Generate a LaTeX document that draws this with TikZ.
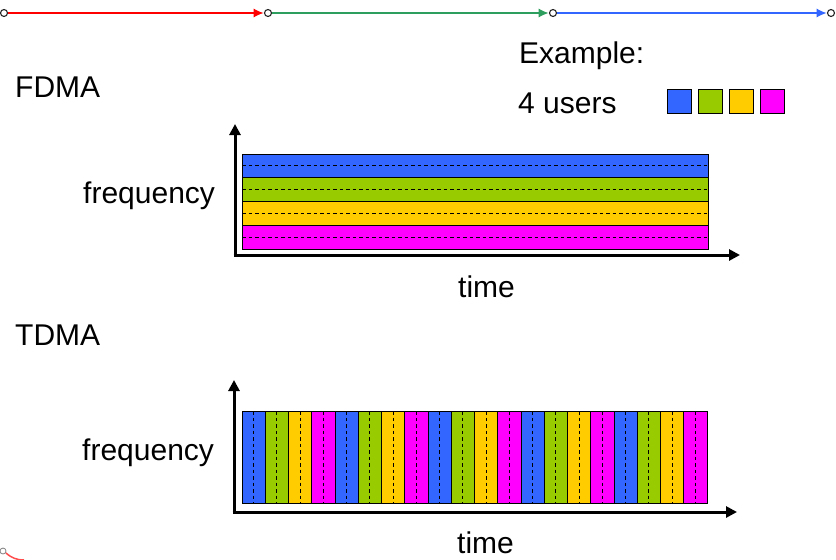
\documentclass[tikz,border=0pt]{standalone}
\usepackage{fontspec}
\setmainfont{Liberation Sans}
\usetikzlibrary{arrows.meta}
\definecolor{ublue}{HTML}{3366FF}
\definecolor{ugreen}{HTML}{99CC00}
\definecolor{uyellow}{HTML}{FFCC00}
\definecolor{umag}{HTML}{FF00FF}
\definecolor{tgreen}{HTML}{2E9E5E}
\definecolor{tred}{HTML}{FF0000}
\begin{document}
\begin{tikzpicture}[x=1pt,y=-1pt,
  lbl/.style={anchor=base west,inner sep=0pt,font=\fontsize{30}{36}\selectfont},
  dotc/.style={circle,draw=black!85,fill=white,line width=1.1pt,inner sep=0pt,minimum size=7pt},
  tline/.style={line width=1.3pt,-{Latex[length=10pt,width=9pt]},shorten >=0.3pt},
  axis/.style={line width=3pt,-{Triangle[length=11pt,width=11pt]}},
  band/.style={draw=black,line width=0.9pt},
  mid/.style={black,line width=0.8pt,dash pattern=on 3.5pt off 3pt},
  sq/.style={draw=black,line width=1pt}]
\useasboundingbox (0,0) rectangle (836,560);
% top timeline
\node[dotc] (p0) at (4,13) {};
\node[dotc] (p1) at (268,13) {};
\node[dotc] (p2) at (553,13) {};
\node[dotc] (p3) at (831,13) {};
\draw[tline,tred] (p0) -- (p1);
\draw[tline,tgreen] (p1) -- (p2);
\draw[tline,ublue] (p2) -- (p3);
% labels
\node[lbl] (fdma) at (15,97) {FDMA};
\node[lbl] (ex) at (519,63) {Example:};
\node[lbl] (users) at (518,113) {4 users};
\node[lbl] (f1) at (83,203) {frequency};
\node[lbl] (t1) at (458,297) {time};
\node[lbl] (tdma) at (15,345) {TDMA};
\node[lbl] (f2) at (82,460) {frequency};
\node[lbl] (t2) at (457,553) {time};
% legend squares
\foreach \c [count=\i from 0] in {ublue,ugreen,uyellow,umag}{
  \fill[black!25] (668+31*\i,90) rectangle (692+31*\i,114);
  \draw[sq,fill=\c] (667+31*\i,89) rectangle (691+31*\i,113);
}
% FDMA
\fill[black!30] (243,155) rectangle (709,250);
\foreach \c [count=\i from 0] in {ublue,ugreen,uyellow,umag}{
  \draw[band,fill=\c] (242,154+23.75*\i) rectangle (708,154+23.75*\i+23.75);
  \draw[mid] (242,154+23.75*\i+11.875) -- (708,154+23.75*\i+11.875);
}
\coordinate (o1) at (235,255);
\draw[axis] ([yshift=1.5pt]o1) -- (235,124);
\draw[axis] ([xshift=-1.5pt]o1) -- (740,255);
% TDMA
\fill[black!30] (243,412) rectangle (708,504);
\foreach \k in {0,...,19}{
  \pgfmathtruncatemacro{\m}{mod(\k,4)}
  \ifcase\m \def\cc{ublue}\or \def\cc{ugreen}\or \def\cc{uyellow}\or \def\cc{umag}\fi
  \draw[band,fill=\cc] (242+23.25*\k,411) rectangle (242+23.25*\k+23.25,503);
  \draw[mid] (242+23.25*\k+11.625,411) -- (242+23.25*\k+11.625,503);
}
\coordinate (o2) at (234,512);
\draw[axis] ([yshift=1.5pt]o2) -- (234,380);
\draw[axis] ([xshift=-1.5pt]o2) -- (737,512);
% corner logo fragment
\draw[black!50,line width=0.8pt] (3,551) circle (3);
\draw[red!70,line width=1.5pt] (6,553) to[bend right=20] (24,560);
\end{tikzpicture}
\end{document}
